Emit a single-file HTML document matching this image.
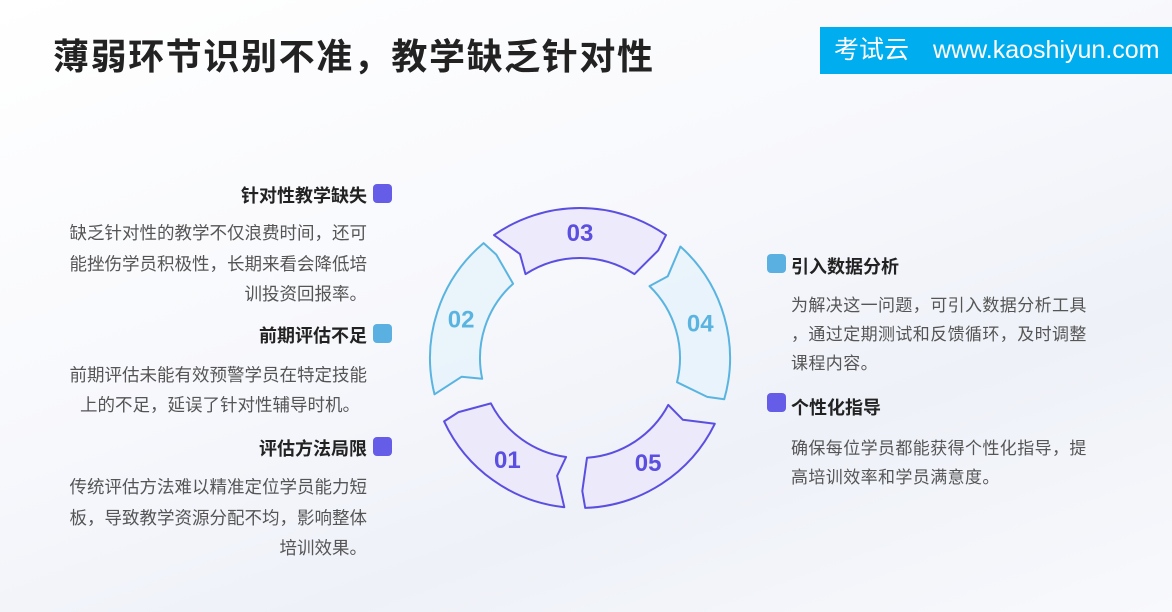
<!DOCTYPE html>
<html><head><meta charset="utf-8">
<style>
body{margin:0;width:1172px;height:612px;overflow:hidden;position:relative;background:linear-gradient(160deg,#ffffff 0%,#f7f8fc 45%,#eef1f8 70%,#f8f9fc 100%);font-family:"Liberation Sans","Noto Sans CJK SC",sans-serif;}
.t{position:absolute;white-space:nowrap}
.h{font-size:36px;font-weight:bold;color:#222;left:53px;top:28px;letter-spacing:1.6px}
.ban{position:absolute;left:820px;top:27px;width:352px;height:47px;background:#00aeef;color:#fff;font-size:25px;line-height:47px}
.tt{font-size:18px;font-weight:bold;color:#222}
.lb{font-size:17.5px;color:#555;right:805px;text-align:right}
.rb{font-size:17px;color:#555;left:791px;letter-spacing:0.4px}
.sq{position:absolute;width:19px;height:19px;border-radius:4px}
</style></head><body>
<div class="t h">薄弱环节识别不准，教学缺乏针对性</div>
<div class="ban"><span style="margin-left:14px">考试云</span><span style="margin-left:24px">www.kaoshiyun.com</span></div>

<div class="t tt" style="right:805px;top:182px">针对性教学缺失</div><div class="sq" style="left:373px;top:184px;background:#655ce8"></div>
<div class="t lb" style="top:220px">缺乏针对性的教学不仅浪费时间，还可</div>
<div class="t lb" style="top:251px">能挫伤学员积极性，长期来看会降低培</div>
<div class="t lb" style="top:281px">训投资回报率。</div>

<div class="t tt" style="right:805px;top:322px">前期评估不足</div><div class="sq" style="left:373px;top:324px;background:#5ab0e0"></div>
<div class="t lb" style="top:362px">前期评估未能有效预警学员在特定技能</div>
<div class="t lb" style="top:392px;right:812px">上的不足，延误了针对性辅导时机。</div>

<div class="t tt" style="right:805px;top:435px">评估方法局限</div><div class="sq" style="left:373px;top:437px;background:#655ce8"></div>
<div class="t lb" style="top:474px">传统评估方法难以精准定位学员能力短</div>
<div class="t lb" style="top:505px">板，导致教学资源分配不均，影响整体</div>
<div class="t lb" style="top:535px">培训效果。</div>

<div class="sq" style="left:767px;top:254px;background:#5ab0e0"></div><div class="t tt" style="left:791px;top:253px">引入数据分析</div>
<div class="t rb" style="top:291px">为解决这一问题，可引入数据分析工具</div>
<div class="t rb" style="top:320px">，通过定期测试和反馈循环，及时调整</div>
<div class="t rb" style="top:349px">课程内容。</div>

<div class="sq" style="left:767px;top:393px;background:#655ce8"></div><div class="t tt" style="left:791px;top:394px">个性化指导</div>
<div class="t rb" style="top:434px">确保每位学员都能获得个性化指导，提</div>
<div class="t rb" style="top:463px">高培训效率和学员满意度。</div>

<svg id="cy" width="1172" height="612" style="position:absolute;left:0;top:0" xmlns="http://www.w3.org/2000/svg"></svg>
<script>
var cx=580,cy=358,ro=150,ri=100,rm=125;
function P(r,a){a=a*Math.PI/180;return (cx+r*Math.sin(a)).toFixed(1)+","+(cy-r*Math.cos(a)).toFixed(1);}
var segs=[[186,245,"01","#5b4fe0","#ebe8fb"],[256,320,"02","#5ab4e0","#e8f3fb"],[325,395,"03","#5b4fe0","#ebe8fb"],[42,106,"04","#5ab4e0","#e8f3fb"],[116,178,"05","#5b4fe0","#ebe8fb"]];
var s="";
segs.forEach(function(g){
 var a1=g[0],a2=g[1],t=5;
 var d="M"+P(ro,a1)+" A"+ro+","+ro+" 0 0 1 "+P(ro,a2)+" L"+P(rm+8,a2+1)+" L"+P(ri,a2-2)+" A"+ri+","+ri+" 0 0 0 "+P(ri,a1+2)+" L"+P(rm-5,a1+t)+" Z";
 s+='<path d="'+d+'" fill="'+g[4]+'" fill-opacity="0.9" stroke="'+g[3]+'" stroke-width="2" stroke-linejoin="round"/>';
 var am=(a1+a2)/2,a=am*Math.PI/180;
 s+='<text x="'+(cx+rm*Math.sin(a)).toFixed(1)+'" y="'+(cy-rm*Math.cos(a)+8).toFixed(1)+'" text-anchor="middle" font-family="Liberation Sans,sans-serif" font-size="24" font-weight="bold" fill="'+g[3]+'">'+g[2]+'</text>';
});
document.getElementById("cy").innerHTML=s;
</script>
</body></html>
